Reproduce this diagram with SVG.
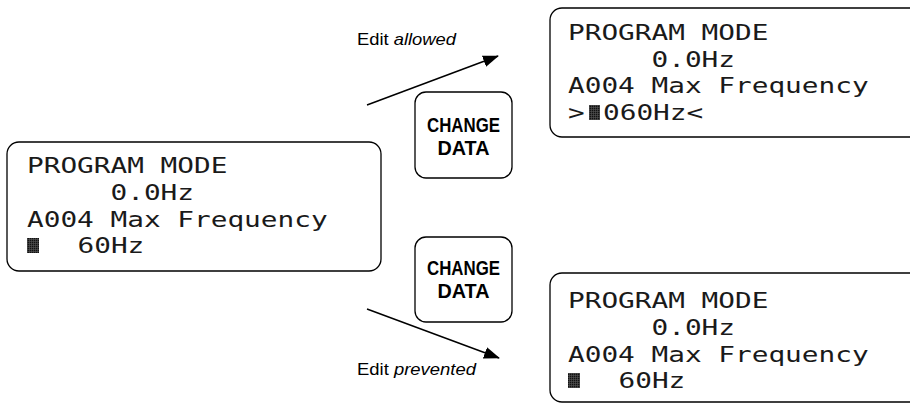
<svg xmlns="http://www.w3.org/2000/svg" width="910" height="404" viewBox="0 0 910 404">
  <defs>
    <style>
      .lcd { font-family: "DejaVu Sans Mono", "Liberation Mono", monospace; font-size: 21px; fill: #1a1a1a; }
      .box { fill: #ffffff; stroke: #000000; stroke-width: 1.3; }
      .btn { font-family: "Liberation Sans", Arial, sans-serif; font-weight: bold; font-size: 20.5px; fill: #000000; text-anchor: middle; }
      .lbl { font-family: "Liberation Sans", Arial, sans-serif; font-size: 17px; fill: #000000; }
      .cur { fill: url(#dots); }
      .conn { stroke: #000000; stroke-width: 1.5; fill: none; }
    </style>
    <pattern id="dots" width="2" height="2" patternUnits="userSpaceOnUse">
      <rect width="2" height="2" fill="#555555"/>
      <rect width="1.4" height="1.4" fill="#111111"/>
    </pattern>
    <marker id="ah" viewBox="0 0 16 12" refX="15" refY="6" markerWidth="16" markerHeight="12" markerUnits="userSpaceOnUse" orient="auto">
      <path d="M0,0 L16,6 L0,12 Z" fill="#000000"/>
    </marker>
  </defs>
  <rect width="910" height="404" fill="#ffffff"/>

  <g id="connectors">
    <line class="conn" x1="367" y1="105" x2="498" y2="56" marker-end="url(#ah)"/>
    <line class="conn" x1="367" y1="309" x2="499" y2="358" marker-end="url(#ah)"/>
    <text class="lbl" x="357" y="45" textLength="99" lengthAdjust="spacingAndGlyphs">Edit <tspan font-style="italic">allowed</tspan></text>
    <text class="lbl" x="357" y="375" textLength="119" lengthAdjust="spacingAndGlyphs">Edit <tspan font-style="italic">prevented</tspan></text>
  </g>

  <g id="display-current">
    <rect class="box" x="7" y="142" width="374" height="129" rx="12"/>
    <text class="lcd" x="27" y="173" textLength="200.4" lengthAdjust="spacingAndGlyphs">PROGRAM MODE</text>
    <text class="lcd" x="110.5" y="200" textLength="83.5" lengthAdjust="spacingAndGlyphs">0.0Hz</text>
    <text class="lcd" x="27" y="227" textLength="300.6" lengthAdjust="spacingAndGlyphs">A004 Max Frequency</text>
    <rect class="cur" x="27" y="238" width="12" height="15"/>
    <text class="lcd" x="77.5" y="253" textLength="66.8" lengthAdjust="spacingAndGlyphs">60Hz</text>
  </g>

  <g id="button-top">
    <rect class="box" x="415" y="92" width="97" height="86" rx="11"/>
    <text class="btn" x="463.5" y="132" textLength="73" lengthAdjust="spacingAndGlyphs">CHANGE</text>
    <text class="btn" x="463.5" y="155" textLength="52" lengthAdjust="spacingAndGlyphs">DATA</text>
  </g>

  <g id="button-bottom">
    <rect class="box" x="415" y="237" width="97" height="85" rx="11"/>
    <text class="btn" x="463.5" y="275" textLength="73" lengthAdjust="spacingAndGlyphs">CHANGE</text>
    <text class="btn" x="463.5" y="298" textLength="52" lengthAdjust="spacingAndGlyphs">DATA</text>
  </g>

  <g id="display-allowed">
    <rect class="box" x="550" y="8" width="374" height="129" rx="12"/>
    <text class="lcd" x="568" y="40" textLength="200.4" lengthAdjust="spacingAndGlyphs">PROGRAM MODE</text>
    <text class="lcd" x="651.5" y="67" textLength="83.5" lengthAdjust="spacingAndGlyphs">0.0Hz</text>
    <text class="lcd" x="568" y="93" textLength="300.6" lengthAdjust="spacingAndGlyphs">A004 Max Frequency</text>
    <text class="lcd" x="568" y="120" textLength="16.7" lengthAdjust="spacingAndGlyphs">&gt;</text>
    <rect class="cur" x="589" y="105" width="11" height="15"/>
    <text class="lcd" x="603" y="120" textLength="100.2" lengthAdjust="spacingAndGlyphs">060Hz&lt;</text>
  </g>

  <g id="display-prevented">
    <rect class="box" x="550" y="273" width="374" height="129" rx="12"/>
    <text class="lcd" x="568" y="308" textLength="200.4" lengthAdjust="spacingAndGlyphs">PROGRAM MODE</text>
    <text class="lcd" x="651.5" y="335" textLength="83.5" lengthAdjust="spacingAndGlyphs">0.0Hz</text>
    <text class="lcd" x="568" y="362" textLength="300.6" lengthAdjust="spacingAndGlyphs">A004 Max Frequency</text>
    <rect class="cur" x="568" y="373" width="12" height="15"/>
    <text class="lcd" x="618.5" y="388" textLength="66.8" lengthAdjust="spacingAndGlyphs">60Hz</text>
  </g>
</svg>
